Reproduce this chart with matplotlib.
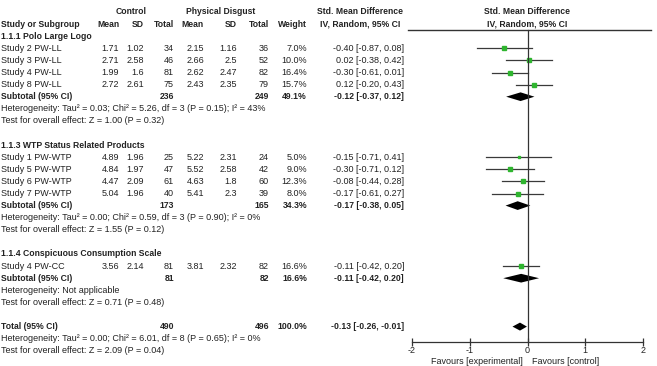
import matplotlib
matplotlib.use("Agg")
import matplotlib.pyplot as plt
import numpy as np

plt.rcParams['font.family'] = ['Liberation Sans', 'DejaVu Sans']

# ---------------- data ----------------
g1_name = "1.1.1 Polo Large Logo"
g1_studies = ["Study 2 PW-LL", "Study 3 PW-LL", "Study 4 PW-LL", "Study 8 PW-LL"]
g1_c_mean = [1.71, 2.71, 1.99, 2.72]
g1_c_sd = [1.02, 2.58, 1.6, 2.61]
g1_c_n = [34, 46, 81, 75]
g1_e_mean = [2.15, 2.66, 2.62, 2.43]
g1_e_sd = [1.16, 2.5, 2.47, 2.35]
g1_e_n = [36, 52, 82, 79]
g1_w = [7.0, 10.0, 16.4, 15.7]
g1_smd = [-0.40, 0.02, -0.30, 0.12]
g1_lo = [-0.87, -0.38, -0.61, -0.20]
g1_hi = [0.08, 0.42, 0.01, 0.43]
g1_sub = dict(cn=236, en=249, w=49.1, smd=-0.12, lo=-0.37, hi=0.12)
g1_het = "Heterogeneity: Tau² = 0.03; Chi² = 5.26, df = 3 (P = 0.15); I² = 43%"
g1_test = "Test for overall effect: Z = 1.00 (P = 0.32)"

g2_name = "1.1.3 WTP Status Related Products"
g2_studies = ["Study 1 PW-WTP", "Study 5 PW-WTP", "Study 6 PW-WTP", "Study 7 PW-WTP"]
g2_c_mean = [4.89, 4.84, 4.47, 5.04]
g2_c_sd = [1.96, 1.97, 2.09, 1.96]
g2_c_n = [25, 47, 61, 40]
g2_e_mean = [5.22, 5.52, 4.63, 5.41]
g2_e_sd = [2.31, 2.58, 1.8, 2.3]
g2_e_n = [24, 42, 60, 39]
g2_w = [5.0, 9.0, 12.3, 8.0]
g2_smd = [-0.15, -0.30, -0.08, -0.17]
g2_lo = [-0.71, -0.71, -0.44, -0.61]
g2_hi = [0.41, 0.12, 0.28, 0.27]
g2_sub = dict(cn=173, en=165, w=34.3, smd=-0.17, lo=-0.38, hi=0.05)
g2_het = "Heterogeneity: Tau² = 0.00; Chi² = 0.59, df = 3 (P = 0.90); I² = 0%"
g2_test = "Test for overall effect: Z = 1.55 (P = 0.12)"

g3_name = "1.1.4 Conspicuous Consumption Scale"
g3_studies = ["Study 4 PW-CC"]
g3_c_mean = [3.56]
g3_c_sd = [2.14]
g3_c_n = [81]
g3_e_mean = [3.81]
g3_e_sd = [2.32]
g3_e_n = [82]
g3_w = [16.6]
g3_smd = [-0.11]
g3_lo = [-0.42]
g3_hi = [0.20]
g3_sub = dict(cn=81, en=82, w=16.6, smd=-0.11, lo=-0.42, hi=0.20)
g3_het = "Heterogeneity: Not applicable"
g3_test = "Test for overall effect: Z = 0.71 (P = 0.48)"

total = dict(cn=490, en=496, w=100.0, smd=-0.13, lo=-0.26, hi=-0.01)
total_het = "Heterogeneity: Tau² = 0.00; Chi² = 6.01, df = 8 (P = 0.65); I² = 0%"
total_test = "Test for overall effect: Z = 2.09 (P = 0.04)"

x_ticks = [-2, -1, 0, 1, 2]
fav_left = "Favours [experimental]"
fav_right = "Favours [control]"

groups = [
    (g1_name, g1_studies, g1_c_mean, g1_c_sd, g1_c_n, g1_e_mean, g1_e_sd, g1_e_n,
     g1_w, g1_smd, g1_lo, g1_hi, g1_sub, g1_het, g1_test),
    (g2_name, g2_studies, g2_c_mean, g2_c_sd, g2_c_n, g2_e_mean, g2_e_sd, g2_e_n,
     g2_w, g2_smd, g2_lo, g2_hi, g2_sub, g2_het, g2_test),
    (g3_name, g3_studies, g3_c_mean, g3_c_sd, g3_c_n, g3_e_mean, g3_e_sd, g3_e_n,
     g3_w, g3_smd, g3_lo, g3_hi, g3_sub, g3_het, g3_test),
]

# ---------------- layout ----------------
W, H = 657, 366
fig = plt.figure(figsize=(W / 100, H / 100), dpi=100)
Y0, DY = 12.0, 12.1
ytop = -Y0 / DY
ybot = (H - Y0) / DY

def row_of_px(p):
    return (p - Y0) / DY

ax = fig.add_axes([0, 0, 1, 1])
ax.set_xlim(0, W)
ax.set_ylim(ybot, ytop)
ax.axis('off')

fx0, fx1 = 412, 643
axf = fig.add_axes([fx0 / W, 0, (fx1 - fx0) / W, 1])
axf.set_xlim(-2, 2)
axf.set_ylim(ybot, ytop)
axf.patch.set_alpha(0)

FS = 6.5
FSB = 6.2
TC = '#222222'
col_cmean, col_csd, col_cn = 119, 144, 174
col_emean, col_esd, col_en = 204, 237, 269
col_w, col_ci = 307, 404

def t(x, r, s, ha='left', bold=False, **kw):
    ax.text(x, r, s, ha=ha, va='center', fontsize=FSB if bold else FS, color=TC,
            fontweight='bold' if bold else 'normal', **kw)

# headers
t(131, 0, "Control", ha='center', bold=True)
t(221, 0, "Physical Disgust", ha='center', bold=True)
t(360, 0, "Std. Mean Difference", ha='center', bold=True)
t(527, 0, "Std. Mean Difference", ha='center', bold=True)
t(1, 1, "Study or Subgroup", bold=True)
for x, s in [(col_cmean, "Mean"), (col_csd, "SD"), (col_cn, "Total"),
             (col_emean, "Mean"), (col_esd, "SD"), (col_en, "Total"),
             (col_w, "Weight")]:
    t(x, 1, s, ha='right', bold=True)
t(360, 1, "IV, Random, 95% CI", ha='center', bold=True)
t(527, 1, "IV, Random, 95% CI", ha='center', bold=True)
ax.plot([408, 651], [row_of_px(30)] * 2, color='#333333', lw=1.0)

def ci_str(m, lo, hi):
    return f"{m:.2f} [{lo:.2f}, {hi:.2f}]"

def diamond(r, m, lo, hi, h=0.36):
    axf.fill([lo, m, hi, m], [r, r - h, r, r + h], color='black', lw=0)

SQC = '#2fb52f'
row = 2
for (name, studies, cm, csd, cn, em, esd, en, w, smd, lo, hi, sub, het, test) in groups:
    t(1, row, name, bold=True)
    row += 1
    for i, s in enumerate(studies):
        t(1, row, s)
        t(col_cmean, row, f"{cm[i]:g}", ha='right')
        t(col_csd, row, f"{csd[i]:g}", ha='right')
        t(col_cn, row, f"{cn[i]}", ha='right')
        t(col_emean, row, f"{em[i]:g}", ha='right')
        t(col_esd, row, f"{esd[i]:g}", ha='right')
        t(col_en, row, f"{en[i]}", ha='right')
        t(col_w, row, f"{w[i]:.1f}%", ha='right')
        t(col_ci, row, ci_str(smd[i], lo[i], hi[i]), ha='right')
        axf.plot([lo[i], hi[i]], [row, row], color='#3a3a3a', lw=0.9)
        axf.plot([smd[i]], [row], marker='s', ms=0.85 * np.sqrt(w[i]),
                 color=SQC, mec=SQC, lw=0)
        row += 1
    t(1, row, "Subtotal (95% CI)", bold=True)
    t(col_cn, row, f"{sub['cn']}", ha='right', bold=True)
    t(col_en, row, f"{sub['en']}", ha='right', bold=True)
    t(col_w, row, f"{sub['w']:.1f}%", ha='right', bold=True)
    t(col_ci, row, ci_str(sub['smd'], sub['lo'], sub['hi']), ha='right', bold=True)
    diamond(row, sub['smd'], sub['lo'], sub['hi'])
    row += 1
    t(1, row, het)
    row += 1
    t(1, row, test)
    row += 2

t(1, row, "Total (95% CI)", bold=True)
t(col_cn, row, f"{total['cn']}", ha='right', bold=True)
t(col_en, row, f"{total['en']}", ha='right', bold=True)
t(col_w, row, f"{total['w']:.1f}%", ha='right', bold=True)
t(col_ci, row, ci_str(total['smd'], total['lo'], total['hi']), ha='right', bold=True)
diamond(row, total['smd'], total['lo'], total['hi'], h=0.33)
t(1, row + 1, total_het)
t(1, row + 2, total_test)

# forest axis
axis_row = row_of_px(342)
axf.plot([0, 0], [row_of_px(30), axis_row], color='#333333', lw=0.9)
for s in ['top', 'right', 'left']:
    axf.spines[s].set_visible(False)
axf.spines['bottom'].set_position(('data', axis_row))
axf.spines['bottom'].set_color('#333333')
axf.spines['bottom'].set_linewidth(0.9)
axf.set_yticks([])
axf.set_xticks(x_ticks)
axf.set_xticklabels([str(v) for v in x_ticks])
axf.tick_params(axis='x', direction='inout', length=6, width=0.9,
                color='#333333', labelsize=FS, labelcolor=TC, pad=0)
ax.text(523, row_of_px(362), fav_left, ha='right', va='center', fontsize=FS, color=TC)
ax.text(532, row_of_px(362), fav_right, ha='left', va='center', fontsize=FS, color=TC)

fig.savefig("out.png", dpi=100)
